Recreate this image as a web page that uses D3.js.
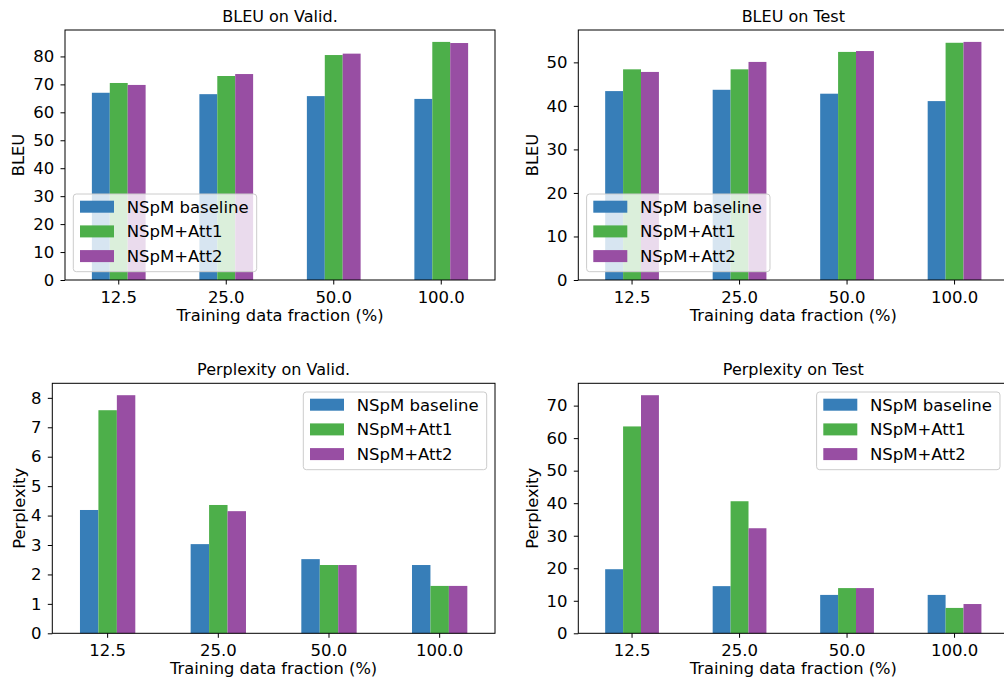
<!DOCTYPE html>
<html>
<head>
<meta charset="utf-8">
<script src="https://cdn.jsdelivr.net/npm/d3@7"></script>
<style>
  body { margin: 0; background: #fff; }
  text { font-family: "DejaVu Sans", sans-serif; fill: #000; }
</style>
</head>
<body>
<div id="chart"></div>
<script>
// Categories and series names
const fractions = ["12.5", "25.0", "50.0", "100.0"];
const seriesNames = ["NSpM baseline", "NSpM+Att1", "NSpM+Att2"];
const colors = ["#377eb8", "#4daf4a", "#984ea3"];

// BLEU on validation set
const bleuValidBaseline = [67.0, 66.5, 65.8, 64.8];
const bleuValidAtt1 = [70.5, 73.0, 80.5, 85.2];
const bleuValidAtt2 = [69.8, 73.7, 81.0, 84.8];

// BLEU on test set
const bleuTestBaseline = [43.4, 43.7, 42.8, 41.1];
const bleuTestAtt1 = [48.4, 48.4, 52.4, 54.5];
const bleuTestAtt2 = [47.8, 50.1, 52.6, 54.7];

// Perplexity on validation set
const pplValidBaseline = [4.19, 3.03, 2.52, 2.32];
const pplValidAtt1 = [7.58, 4.36, 2.32, 1.61];
const pplValidAtt2 = [8.09, 4.15, 2.32, 1.61];

// Perplexity on test set
const pplTestBaseline = [19.7, 14.5, 11.8, 11.8];
const pplTestAtt1 = [63.6, 40.6, 13.9, 7.8];
const pplTestAtt2 = [73.2, 32.3, 13.9, 9.0];

// Y tick values
const bleuValidTicks = [0, 10, 20, 30, 40, 50, 60, 70, 80];
const bleuTestTicks = [0, 10, 20, 30, 40, 50];
const pplValidTicks = [0, 1, 2, 3, 4, 5, 6, 7, 8];
const pplTestTicks = [0, 10, 20, 30, 40, 50, 60, 70];

const xLabel = "Training data fraction (%)";

const svg = d3
  .select("#chart")
  .append("svg")
  .attr("width", 1004)
  .attr("height", 679);

function drawPanel(p) {
  const width = p.right - p.left,
    height = p.bottom - p.top;

  const g = svg.append("g").attr("transform", `translate(${p.left},${p.top})`);

  // group scale, like pandas: bar groups take half of each slot
  const x0 = d3
    .scaleBand()
    .domain(fractions)
    .range([0, width])
    .paddingInner(0.5)
    .paddingOuter(0.25);

  const x1 = d3
    .scaleBand()
    .domain(d3.range(seriesNames.length))
    .range([0, x0.bandwidth()]);

  const maxVal = d3.max(p.series.flat());
  const y = d3.scaleLinear().domain([0, maxVal * 1.05]).range([height, 0]);

  // bars
  p.series.forEach((vals, si) => {
    g.append("g")
      .selectAll("rect")
      .data(vals)
      .join("rect")
      .attr("x", (d, i) => x0(fractions[i]) + x1(si))
      .attr("y", (d) => y(d))
      .attr("width", x1.bandwidth())
      .attr("height", (d) => height - y(d))
      .attr("fill", colors[si]);
  });

  // x axis
  const xAxis = g
    .append("g")
    .attr("transform", `translate(0,${height})`)
    .call(d3.axisBottom(x0).tickSize(4.5).tickPadding(6.5).tickSizeOuter(0));
  xAxis.select(".domain").remove();
  xAxis.selectAll("text").style("font-size", "16.5px");

  // y axis
  const yAxis = g
    .append("g")
    .call(
      d3.axisLeft(y).tickValues(p.ticks).tickSize(4.5).tickPadding(6.3).tickSizeOuter(0)
    );
  yAxis.select(".domain").remove();
  yAxis.selectAll("text").style("font-size", "16.5px");
  g.selectAll(".tick line").attr("stroke", "#000").attr("stroke-width", 1);

  // frame (all four spines)
  g.append("rect")
    .attr("x", 0)
    .attr("y", 0)
    .attr("width", width)
    .attr("height", height)
    .attr("fill", "none")
    .attr("stroke", "#000")
    .attr("stroke-width", 1);

  // title
  g.append("text")
    .attr("x", width / 2)
    .attr("y", -8)
    .attr("text-anchor", "middle")
    .style("font-size", "16px")
    .text(p.title);

  // axis labels
  g.append("text")
    .attr("x", width / 2)
    .attr("y", height + 41)
    .attr("text-anchor", "middle")
    .style("font-size", "16.3px")
    .text(xLabel);

  g.append("text")
    .attr("transform", `translate(${p.yLabelX - p.left},${height / 2}) rotate(-90)`)
    .attr("text-anchor", "middle")
    .attr("dy", "0.35em")
    .style("font-size", "16.3px")
    .text(p.yLabel);

  // legend
  const lw = 183.4,
    lh = 77.7;
  const lx = p.legendPos === "lower left" ? 8.3 : width - 8.3 - lw;
  const ly = p.legendPos === "lower left" ? height - 8.3 - lh : 8.7;
  const legend = g.append("g").attr("transform", `translate(${lx},${ly})`);
  legend
    .append("rect")
    .attr("width", lw)
    .attr("height", lh)
    .attr("rx", 3)
    .attr("fill", "#fff")
    .attr("fill-opacity", 0.8)
    .attr("stroke", "#cccccc")
    .attr("stroke-width", 1);

  const items = legend
    .selectAll("g.item")
    .data(seriesNames)
    .join("g")
    .attr("class", "item")
    .attr("transform", (d, i) => `translate(0,${12.7 + i * 24.7})`);
  items
    .append("rect")
    .attr("x", 6.7)
    .attr("y", -6)
    .attr("width", 34)
    .attr("height", 12)
    .attr("fill", (d, i) => colors[i]);
  items
    .append("text")
    .attr("x", 53.4)
    .attr("dy", "0.36em")
    .style("font-size", "16.5px")
    .text((d) => d);
}

drawPanel({
  title: "BLEU on Valid.",
  yLabel: "BLEU",
  series: [bleuValidBaseline, bleuValidAtt1, bleuValidAtt2],
  ticks: bleuValidTicks,
  left: 65, right: 495, top: 30, bottom: 280,
  yLabelX: 18.5,
  legendPos: "lower left"
});

drawPanel({
  title: "BLEU on Test",
  yLabel: "BLEU",
  series: [bleuTestBaseline, bleuTestAtt1, bleuTestAtt2],
  ticks: bleuTestTicks,
  left: 578.3, right: 1008.3, top: 30, bottom: 280,
  yLabelX: 532,
  legendPos: "lower left"
});

drawPanel({
  title: "Perplexity on Valid.",
  yLabel: "Perplexity",
  series: [pplValidBaseline, pplValidAtt1, pplValidAtt2],
  ticks: pplValidTicks,
  left: 52.3, right: 495, top: 383.3, bottom: 633.3,
  yLabelX: 19,
  legendPos: "upper right"
});

drawPanel({
  title: "Perplexity on Test",
  yLabel: "Perplexity",
  series: [pplTestBaseline, pplTestAtt1, pplTestAtt2],
  ticks: pplTestTicks,
  left: 578.3, right: 1008.3, top: 383.3, bottom: 633.3,
  yLabelX: 532.5,
  legendPos: "upper right"
});
</script>
</body>
</html>
